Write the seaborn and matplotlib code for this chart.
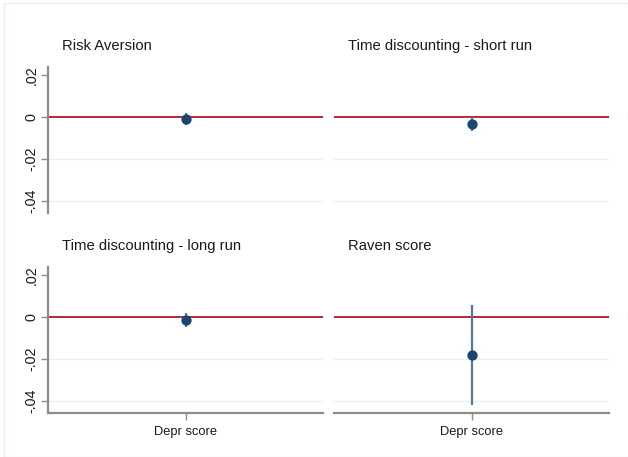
import matplotlib
matplotlib.use("Agg")
import matplotlib.pyplot as plt
import seaborn as sns
import pandas as pd
from matplotlib.patches import Rectangle

# Coefficient estimates and 95% confidence intervals for the depression score
outcomes = ["Risk Aversion", "Time discounting - short run",
            "Time discounting - long run", "Raven score"]
estimates = [-0.0010, -0.0033, -0.0015, -0.0181]
ci_low = [-0.0038, -0.0065, -0.0048, -0.0419]
ci_high = [0.0019, 0.0000, 0.0019, 0.0057]
regressor = "Depr score"
yticks = [0.02, 0.0, -0.02, -0.04]
ytick_labels = [".02", "0", "-.02", "-.04"]

sns.set_theme(style="white")
plt.rcParams["font.family"] = ["Liberation Sans", "DejaVu Sans"]

df = pd.DataFrame({"outcome": outcomes, "est": estimates,
                   "lo": ci_low, "hi": ci_high, "x": [regressor] * 4})

W, H = 628, 457
fig = plt.figure(figsize=(W / 100, H / 100), dpi=100)
fig.patches.append(Rectangle((4 / W, 0), 1 - 4 / W, 1 - 3 / H, transform=fig.transFigure,
                             fill=False, edgecolor="#e8eeee", linewidth=1.0))

navy = "#1a476f"
ci_col = "#56789a"
red = "#b0172f"
grey = "#8c8c8c"
grid = "#eaf1f1"

lefts = [48, 334]
tops = [67, 267]
aw, ah = 275, 146

for i, row in df.iterrows():
    r, c = divmod(i, 2)
    ax = fig.add_axes([lefts[c] / W, 1 - (tops[r] + ah) / H, aw / W, ah / H])
    ax.set_ylim(-0.0457, 0.0238)
    ax.set_xlim(-1, 1)
    for g in [-0.02, -0.04]:
        ax.axhline(g, color=grid, lw=1.0, zorder=0)
    ax.axhline(0, color=red, lw=1.3, zorder=1)
    sub = df.iloc[[i]]
    ax.vlines([0], sub["lo"], sub["hi"], color=ci_col, lw=1.6, zorder=2)
    sns.scatterplot(x=[0], y=sub["est"].values, ax=ax, color=navy, s=55,
                    edgecolor=navy, linewidth=0, zorder=3)
    ax.set_title(row["outcome"], loc="left", fontsize=10.7, x=14 / aw, pad=12,
                 color="#1a1a1a")
    for s in ["top", "right"]:
        ax.spines[s].set_visible(False)
    ax.spines["left"].set_visible(c == 0)
    ax.spines["bottom"].set_visible(r == 1)
    for s in ["left", "bottom"]:
        ax.spines[s].set_color(grey)
        ax.spines[s].set_linewidth(1.6)
    ax.set_yticks(yticks)
    if c == 0:
        ax.set_yticklabels(ytick_labels, rotation=90, va="center", fontsize=10.3,
                           color="#1a1a1a")
        ax.tick_params(axis="y", length=5, width=1, color=grey, left=True, pad=2)
    else:
        ax.set_yticklabels([])
        ax.tick_params(axis="y", length=0)
    ax.set_xticks([0])
    if r == 1:
        ax.set_xticklabels([row["x"]], fontsize=9.3, color="#1a1a1a")
        ax.tick_params(axis="x", length=5, width=1, color=grey, bottom=True, pad=4)
    else:
        ax.set_xticklabels([])
        ax.tick_params(axis="x", length=0)
    ax.set_xlabel("")
    ax.set_ylabel("")
    ax.grid(False)

fig.savefig("out.png", dpi=100)
